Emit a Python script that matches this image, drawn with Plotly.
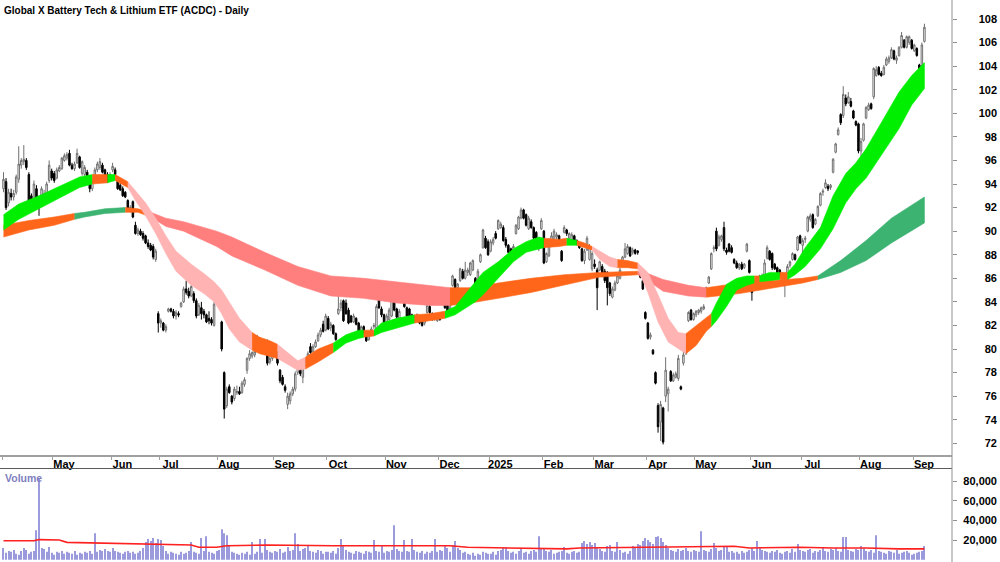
import plotly.graph_objects as go
import pandas as pd

# ---------------- data ----------------
holidays = ["2024-04-25", "2024-06-10", "2024-12-25", "2024-12-26", "2025-01-01",
            "2025-01-27", "2025-04-18", "2025-04-21", "2025-04-25", "2025-06-09"]
dates = [d for d in pd.bdate_range("2024-04-02", "2025-09-05")
         if d.strftime("%Y-%m-%d") not in holidays]

month_labels = ["", "May", "Jun", "Jul", "Aug", "Sep", "Oct", "Nov", "Dec",
                "2025", "Feb", "Mar", "Apr", "May", "Jun", "Jul", "Aug", "Sep"]

opens = [
    # Apr 2024
    93.6, 94.2, 92.4, 93.2, 92.9, 93.3, 94.4, 95.6, 95.9, 96.0, 94.8, 93.0, 92.5, 93.6, 92.9, 92.5, 93.0, 93.2, 94.3, 95.1,
    # May
    94.9, 94.5, 95.1, 95.3, 96.0, 96.2, 96.6, 95.6, 95.3, 95.8, 96.3, 94.9, 94.8, 95.0, 94.2, 93.6, 94.4, 95.2, 95.4, 95.6, 95.2, 94.8, 94.3,
    # Jun
    95.2, 95.2, 94.3, 93.9, 93.6, 93.3, 92.6, 91.9, 92.5, 90.5, 89.8, 90.0, 89.8, 89.6, 89.0, 88.8, 88.7, 87.6, 83.0,
    # Jul
    82.2, 82.2, 81.6, 83.2, 83.4, 83.2, 82.8, 83.0, 83.6, 84.0, 85.1, 84.9, 84.5, 84.7, 84.1, 82.9, 83.5, 83.2, 82.9, 82.6, 82.5, 82.0, 83.9,
    # Aug
    84.2, 82.3, 78.0, 75.2, 76.8, 76.0, 75.8, 76.3, 76.4, 76.3, 77.0, 78.2, 79.2, 79.4, 79.5, 80.5, 80.9, 80.5, 80.1, 80.6, 78.9, 79.2,
    # Sep
    80.2, 79.6, 78.2, 77.6, 76.8, 75.3, 75.6, 76.2, 76.6, 78.0, 78.6, 77.6, 78.7, 78.9, 80.2, 79.8, 80.2, 80.7, 81.2, 82.1, 81.6,
    # Oct
    82.6, 81.8, 82.0, 81.3, 83.0, 83.5, 84.1, 83.9, 83.3, 82.8, 82.3, 82.6, 82.2, 81.4, 81.9, 81.4, 80.8, 81.3, 81.9, 81.7, 84.7, 83.4, 82.9,
    # Nov
    82.3, 82.5, 82.8, 84.0, 83.4, 82.6, 84.1, 84.2, 83.5, 83.4, 82.9, 82.4, 82.7, 82.8, 82.4, 82.2, 83.1, 83.6, 83.0, 82.6, 82.4,
    # Dec
    82.9, 83.8, 84.8, 84.1, 83.4, 85.4, 85.9, 85.2, 85.8, 86.6, 86.0, 86.5, 86.3, 86.7, 86.0, 85.6, 87.4, 88.6, 89.4, 89.1,
    # Jan 2025
    88.3, 89.0, 89.8, 90.2, 90.3, 90.3, 89.3, 88.8, 88.5, 87.9, 89.8, 90.2, 91.1, 91.8, 91.4, 90.2, 90.8, 90.3, 89.9, 88.5, 90.2,
    # Feb
    90.0, 87.4, 87.9, 89.0, 89.1, 89.5, 89.6, 88.3, 89.9, 90.1, 89.4, 89.3, 89.6, 89.2, 89.0, 88.5, 87.5, 88.4, 87.6, 86.8,
    # Mar
    87.2, 86.7, 86.7, 87.0, 86.6, 86.5, 85.6, 84.4, 85.0, 85.6, 86.0, 87.4, 87.8, 88.1, 88.6, 88.2, 88.4, 88.3, 86.5, 85.8, 83.1,
    # Apr
    82.2, 81.0, 79.9, 78.0, 75.2, 73.8, 75.0, 76.0, 76.2, 78.1, 77.3, 77.6, 77.5, 76.8, 78.8, 79.6, 82.4, 83.3, 82.5,
    # May
    82.9, 83.1, 83.2, 83.4, 84.7, 85.6, 86.8, 88.5, 90.0, 88.8, 89.3, 90.3, 88.4, 88.9, 88.6, 87.6, 87.3, 86.9, 87.2, 86.9, 88.3, 87.5,
    # Jun
    86.1, 85.2, 85.5, 85.6, 85.8, 86.0, 87.7, 88.3, 88.1, 87.2, 86.9, 86.7, 85.9, 85.6, 85.7, 87.1, 87.6, 88.0, 88.4, 89.6,
    # Jul
    88.8, 89.3, 90.0, 91.0, 91.4, 90.6, 91.3, 92.2, 93.3, 93.7, 93.8, 93.7, 95.0, 96.7, 98.2, 99.9, 99.8, 101.3, 100.9, 101.0, 100.2, 99.3, 99.1,
    # Aug
    96.8, 97.7, 99.6, 100.3, 100.8, 101.4, 103.2, 103.9, 103.4, 103.3, 104.1, 104.4, 104.7, 105.3, 104.5, 104.9, 105.6, 106.2, 105.6, 106.0, 106.2,
    # Sep
    105.3, 105.5, 104.1, 104.0, 106.1,
]
highs = [
    95.0, 94.5, 93.6, 93.6, 93.5, 94.8, 97.2, 96.2, 97.3, 96.2, 95.0, 93.2, 94.3, 93.9, 93.0, 93.8, 93.5, 94.2, 96.0, 95.3,
    95.1, 95.4, 95.6, 96.3, 96.6, 96.7, 96.9, 95.8, 95.9, 97.0, 96.4, 96.0, 95.6, 95.2, 94.4, 94.4, 95.4, 95.9, 96.2, 95.8, 95.3, 95.0, 95.0,
    95.8, 95.4, 94.5, 94.1, 93.8, 93.4, 92.7, 92.2, 92.6, 90.8, 90.3, 90.2, 90.0, 89.7, 89.3, 89.0, 88.9, 88.5, 83.2,
    82.6, 82.3, 82.1, 83.5, 83.5, 83.4, 83.3, 83.2, 84.0, 85.3, 85.8, 85.2, 85.6, 84.9, 84.3, 83.9, 84.0, 83.4, 83.0, 83.2, 82.7, 84.0, 84.6,
    84.5, 82.4, 78.1, 76.8, 77.0, 76.1, 76.8, 76.9, 76.8, 77.3, 77.6, 79.3, 79.9, 79.8, 80.0, 81.2, 81.0, 80.7, 80.7, 80.8, 79.4, 80.3,
    80.4, 79.8, 78.3, 77.8, 77.0, 76.3, 76.4, 76.8, 78.1, 78.7, 78.8, 78.9, 79.2, 79.8, 80.5, 80.4, 80.8, 81.4, 81.8, 82.4, 83.0,
    82.8, 82.3, 82.1, 81.4, 84.6, 84.2, 84.2, 84.2, 83.5, 82.9, 83.0, 82.7, 82.3, 82.0, 82.0, 81.5, 81.4, 81.9, 82.2, 83.8, 84.9, 83.6, 83.0,
    83.0, 83.5, 85.4, 84.2, 83.5, 83.4, 85.0, 84.4, 83.6, 83.5, 83.0, 82.9, 83.0, 82.9, 82.5, 82.6, 83.9, 83.8, 83.1, 83.0, 82.8,
    83.0, 84.9, 84.9, 84.2, 84.2, 86.3, 86.0, 85.6, 86.9, 86.8, 87.4, 86.9, 87.4, 87.6, 86.1, 86.8, 88.1, 90.2, 89.6, 89.3,
    89.3, 89.5, 90.0, 91.0, 90.8, 90.5, 89.5, 88.9, 88.6, 88.9, 90.6, 91.3, 92.0, 91.9, 91.5, 91.3, 91.0, 90.4, 90.0, 89.5, 91.1,
    90.1, 88.2, 89.4, 89.9, 90.2, 89.9, 89.7, 88.4, 90.5, 90.2, 89.9, 89.9, 89.7, 89.3, 89.1, 88.6, 88.5, 89.6, 88.9, 88.3,
    87.6, 86.9, 87.5, 87.2, 86.8, 86.6, 85.7, 85.3, 85.8, 86.3, 86.9, 87.9, 89.0, 88.9, 88.7, 88.6, 88.5, 88.4, 86.6, 85.9, 83.2,
    82.3, 81.4, 80.0, 78.1, 75.4, 75.6, 75.1, 79.3, 76.8, 78.2, 78.0, 78.1, 79.5, 76.9, 79.9, 80.4, 83.2, 83.4, 83.1,
    83.3, 83.4, 83.6, 83.8, 85.3, 86.2, 88.2, 88.8, 90.3, 89.7, 89.7, 90.8, 88.6, 89.0, 88.8, 87.7, 87.5, 87.3, 87.4, 87.3, 89.0, 87.6,
    86.2, 85.9, 86.1, 86.3, 86.4, 87.6, 88.8, 88.4, 88.2, 87.3, 87.0, 86.8, 86.5, 86.2, 87.2, 87.5, 88.2, 88.1, 89.6, 89.7,
    89.4, 89.6, 91.3, 91.5, 91.5, 91.1, 92.2, 93.3, 93.6, 94.4, 94.0, 94.0, 96.2, 97.5, 98.8, 100.0, 102.3, 101.6, 101.8, 101.3, 100.3, 99.4, 99.2,
    97.9, 99.2, 100.6, 100.9, 100.9, 103.9, 104.0, 104.0, 103.6, 104.1, 104.8, 104.9, 105.6, 105.4, 104.9, 105.7, 106.9, 106.3, 106.6, 106.6, 106.3,
    105.9, 105.6, 104.2, 106.0, 107.6,
]
lows = [
    93.3, 91.8, 92.1, 92.6, 92.6, 93.1, 94.1, 95.3, 95.6, 95.2, 92.0, 91.9, 92.4, 92.3, 91.3, 92.4, 92.6, 93.1, 94.1, 94.3,
    94.1, 94.4, 95.0, 95.2, 95.9, 96.0, 95.5, 95.2, 95.1, 95.7, 95.3, 94.7, 94.6, 94.2, 93.3, 93.4, 94.2, 95.0, 95.2, 94.9, 94.4, 94.1, 94.2,
    95.0, 94.7, 93.5, 93.4, 92.9, 92.8, 91.8, 91.6, 91.1, 89.7, 89.6, 89.6, 89.2, 88.9, 88.5, 88.3, 87.6, 87.4, 81.4,
    81.8, 81.5, 81.4, 83.1, 83.1, 82.6, 82.5, 82.7, 83.5, 83.9, 84.6, 84.3, 84.4, 83.9, 82.6, 82.8, 82.5, 82.6, 82.2, 82.1, 82.0, 81.9, 83.8,
    83.7, 79.8, 74.1, 75.0, 76.2, 75.3, 75.6, 76.1, 76.1, 76.2, 76.8, 77.9, 79.0, 79.2, 79.3, 80.4, 80.3, 79.9, 80.0, 78.6, 78.7, 79.0,
    79.6, 78.6, 77.1, 76.9, 76.3, 74.9, 75.3, 76.0, 76.4, 77.8, 77.7, 77.1, 78.5, 78.7, 79.6, 79.7, 80.1, 80.6, 81.0, 81.4, 81.5,
    81.6, 81.5, 81.2, 80.7, 82.9, 83.2, 82.3, 82.9, 82.1, 82.2, 82.2, 82.0, 81.4, 81.3, 81.3, 80.6, 80.7, 81.1, 81.7, 81.6, 83.4, 82.7, 81.7,
    82.1, 82.4, 82.7, 83.2, 82.6, 82.4, 84.0, 83.5, 82.7, 82.5, 82.4, 82.2, 82.5, 82.1, 81.9, 82.0, 83.0, 83.0, 82.4, 82.4, 82.3,
    82.4, 83.7, 83.4, 83.1, 83.2, 85.3, 85.0, 85.0, 85.7, 85.9, 85.9, 86.2, 86.2, 86.6, 85.0, 85.5, 87.3, 88.5, 88.5, 87.9,
    88.2, 88.8, 89.3, 90.1, 90.2, 89.1, 88.6, 88.1, 87.7, 87.7, 89.7, 90.1, 91.0, 91.0, 90.4, 90.1, 90.2, 89.3, 89.2, 88.3, 90.1,
    87.2, 87.3, 87.8, 88.9, 89.0, 89.3, 89.0, 87.4, 89.8, 89.6, 89.2, 89.2, 89.0, 88.8, 88.5, 87.4, 87.2, 88.3, 87.5, 86.6,
    86.8, 83.3, 86.6, 86.1, 85.6, 83.7, 84.5, 84.3, 84.9, 85.5, 85.9, 87.3, 87.7, 88.0, 87.8, 88.0, 88.0, 88.0, 86.0, 85.0, 82.5,
    80.8, 80.8, 79.5, 77.0, 72.9, 72.2, 71.9, 75.5, 74.7, 77.2, 77.2, 77.5, 77.3, 76.5, 78.6, 79.5, 82.3, 82.4, 82.4,
    82.7, 82.9, 83.0, 83.3, 84.5, 85.5, 86.7, 88.2, 88.3, 88.7, 89.1, 88.3, 88.0, 88.2, 88.1, 87.2, 86.8, 86.7, 86.7, 86.8, 88.2, 86.4,
    84.1, 85.1, 85.4, 85.5, 85.7, 85.9, 87.6, 87.5, 86.7, 86.7, 86.4, 86.1, 85.8, 84.4, 85.6, 86.9, 87.5, 87.5, 88.3, 88.9,
    87.9, 89.0, 89.9, 90.8, 90.2, 90.5, 91.2, 92.1, 93.0, 93.6, 93.4, 93.5, 94.9, 96.6, 98.1, 99.0, 99.6, 100.6, 100.8, 100.5, 99.5, 98.9, 96.6,
    95.4, 97.6, 99.5, 100.2, 100.3, 101.2, 103.1, 103.2, 103.1, 103.2, 104.0, 104.2, 104.6, 104.5, 104.2, 104.8, 105.5, 105.5, 105.5, 105.8, 105.4,
    105.2, 104.8, 103.3, 103.9, 106.0,
]
closes = [
    94.4, 92.0, 93.3, 92.9, 93.2, 94.6, 95.7, 96.0, 96.1, 95.4, 92.2, 92.3, 94.0, 92.5, 92.4, 93.6, 93.2, 94.0, 95.6, 94.5,
    94.3, 95.2, 95.4, 96.2, 96.4, 96.5, 95.6, 95.3, 95.7, 96.6, 95.4, 95.9, 95.4, 94.4, 93.6, 94.2, 95.2, 95.7, 95.9, 95.0, 94.6, 94.3, 94.8,
    95.5, 94.8, 93.6, 93.5, 93.0, 92.9, 91.9, 92.0, 91.2, 89.8, 90.1, 89.7, 89.4, 89.0, 88.7, 88.4, 87.8, 88.3, 82.2,
    82.4, 81.6, 81.9, 83.4, 83.2, 82.8, 83.1, 82.9, 83.9, 85.1, 84.8, 84.5, 85.3, 84.1, 82.8, 83.7, 83.0, 82.9, 82.3, 82.4, 82.2, 83.8, 84.4,
    84.0, 80.0, 74.9, 76.6, 76.3, 75.5, 76.6, 76.4, 76.2, 77.1, 77.4, 79.2, 79.6, 79.7, 79.8, 81.0, 80.5, 80.1, 80.6, 78.8, 79.2, 80.1,
    79.8, 78.8, 77.3, 77.0, 76.5, 76.0, 76.2, 76.6, 77.9, 78.5, 77.9, 78.7, 79.0, 79.6, 79.7, 80.2, 80.6, 81.2, 81.6, 81.5, 82.8,
    81.7, 82.1, 81.3, 80.8, 83.4, 83.9, 82.4, 83.0, 82.2, 82.3, 82.8, 82.1, 81.5, 81.9, 81.4, 80.7, 81.2, 81.7, 82.0, 83.6, 83.5, 82.9, 81.8,
    82.8, 83.3, 84.3, 83.3, 82.7, 83.2, 84.6, 83.6, 82.8, 82.6, 82.5, 82.8, 82.6, 82.2, 82.0, 82.5, 83.7, 83.1, 82.5, 82.8, 82.7,
    82.5, 84.8, 83.5, 83.2, 84.0, 86.2, 85.1, 85.5, 86.8, 86.0, 86.7, 86.7, 87.3, 87.5, 85.1, 86.6, 88.0, 90.1, 88.6, 88.0,
    89.1, 89.3, 89.4, 90.9, 90.6, 89.2, 88.8, 88.2, 87.8, 88.7, 90.5, 91.2, 91.8, 91.1, 90.5, 91.1, 90.3, 89.4, 89.3, 89.4, 90.9,
    87.3, 88.1, 89.3, 89.6, 90.0, 89.7, 89.1, 87.5, 90.3, 89.8, 89.8, 89.7, 89.2, 88.9, 88.6, 87.5, 88.3, 89.4, 88.7, 88.1,
    87.0, 85.2, 87.4, 86.2, 85.8, 85.2, 84.7, 85.1, 85.6, 86.2, 86.7, 87.8, 88.5, 88.7, 87.9, 88.4, 88.1, 88.2, 86.1, 85.1, 82.6,
    80.9, 81.2, 79.6, 77.1, 73.4, 75.3, 72.1, 78.2, 76.6, 77.3, 77.8, 77.9, 79.2, 76.6, 79.5, 80.3, 83.1, 82.5, 83.0,
    83.2, 83.3, 83.5, 83.6, 85.2, 86.1, 88.1, 88.6, 88.5, 89.5, 89.6, 88.5, 88.2, 88.3, 88.2, 87.3, 86.9, 87.2, 86.8, 87.2, 88.9, 86.5,
    84.8, 85.8, 86.0, 86.2, 86.2, 87.3, 88.6, 87.6, 86.9, 86.8, 86.5, 86.2, 86.4, 86.0, 87.0, 87.4, 88.1, 87.6, 89.5, 89.0,
    89.2, 89.4, 91.2, 91.3, 90.3, 91.0, 92.1, 93.2, 93.4, 94.1, 93.6, 93.9, 96.1, 97.4, 98.6, 99.2, 101.6, 100.8, 101.4, 100.6, 99.6, 99.0, 96.8,
    97.6, 99.1, 100.5, 100.7, 100.4, 103.8, 103.7, 103.3, 103.2, 103.9, 104.6, 104.7, 105.4, 104.6, 104.7, 105.6, 106.6, 105.6, 106.5, 106.5, 105.5,
    105.8, 104.9, 103.4, 105.8, 107.3,
]
volume_k = [
    12, 7, 9, 8, 10, 6, 5, 9, 12, 10, 6, 8, 9, 30, 83, 12, 11, 8, 13, 7,
    5, 8, 7, 9, 6, 8, 7, 6, 9, 5, 7, 6, 8, 7, 9, 6, 27, 8, 10, 9, 11, 9, 8,
    12, 9, 8, 7, 6, 8, 9, 7, 8, 6, 7, 9, 12, 18, 21, 19, 22, 17, 21,
    20, 14, 9, 6, 8, 7, 6, 5, 8, 6, 7, 9, 18, 8, 7, 6, 22, 9, 24, 8, 7, 6, 9,
    10, 31, 27, 25, 14, 8, 7, 6, 5, 7, 6, 8, 5, 18, 6, 8, 21, 7, 21, 10, 8, 7,
    9, 8, 11, 7, 8, 13, 9, 10, 27, 16, 9, 11, 12, 14, 9, 8, 7, 10, 9, 6, 8,
    8, 7, 9, 6, 12, 21, 15, 10, 8, 7, 6, 9, 8, 7, 6, 9, 8, 7, 20, 9, 8, 14, 7,
    9, 8, 10, 35, 11, 9, 8, 20, 9, 8, 21, 10, 8, 7, 9, 6, 8, 7, 9, 21, 8,
    10, 9, 14, 12, 8, 15, 19, 12, 10, 7, 8, 6, 5, 7, 4, 6, 5, 8, 7, 6,
    6, 8, 5, 9, 10, 12, 13, 9, 7, 8, 6, 9, 12, 7, 8, 6, 9, 10, 8, 24, 11,
    12, 9, 8, 10, 6, 7, 8, 9, 13, 7, 6, 8, 9, 7, 8, 17, 19, 16, 18, 15,
    17, 12, 11, 9, 8, 14, 15, 9, 8, 18, 10, 7, 8, 6, 9, 14, 12, 16, 15, 19, 22,
    20, 18, 16, 23, 24, 22, 18, 15, 12, 10, 9, 8, 11, 9, 10, 12, 9, 8, 10,
    9, 8, 29, 10, 9, 8, 11, 17, 12, 9, 10, 14, 13, 8, 9, 7, 8, 6, 9, 7, 8, 10,
    12, 9, 19, 13, 10, 9, 8, 7, 9, 8, 10, 7, 6, 8, 9, 7, 11, 8, 16, 10,
    9, 8, 10, 11, 7, 9, 8, 10, 12, 9, 8, 11, 10, 12, 9, 8, 23, 23, 10, 9, 8, 11, 10,
    14, 12, 9, 8, 10, 7, 25, 9, 8, 7, 6, 9, 8, 7, 10, 6, 7, 8, 9, 7, 5,
    6, 7, 8, 9, 14,
]
# volume moving average read at sample days (thousands)
vol_ma_day = [0, 12, 14, 22, 25, 38, 51, 64, 74, 77, 84, 88, 104, 130, 156, 176, 183, 196,
              222, 227, 259, 274, 288, 294, 314, 327, 340, 353, 363]
vol_ma_k = [19.3, 19.3, 20.5, 20.0, 17.7, 17.0, 16.0, 15.0, 15.0, 12.7, 12.7, 14.3, 15.0, 14.3,
            14.3, 14.3, 12.7, 12.0, 11.0, 12.0, 12.7, 12.7, 13.7, 12.0, 12.7, 12.0, 12.0, 11.0, 11.0]

# short-term ribbon (read at sample days): top, bottom, trend state
fast_day = [0, 6, 14, 22, 30, 35, 41, 44, 49, 52, 56, 60, 64, 68, 74, 79, 83, 86, 89, 93, 98, 101, 105,
            108, 112, 116, 119, 124, 130, 135, 140, 142, 146, 149, 155, 162, 168, 174, 178, 181, 183,
            186, 189, 195, 201, 206, 211, 213, 219, 222, 226, 229, 232, 235, 239, 242, 246, 250, 254,
            258, 262, 266, 269, 273, 277, 279, 281, 285, 289, 293, 296, 298, 302, 306, 309, 312, 316,
            322, 327, 332, 336, 340, 346, 353, 358, 363]
fast_top = [91.4, 92.3, 93.0, 93.8, 94.6, 94.8, 94.8, 94.8, 94.2, 93.4, 92.4, 91.1, 89.6, 88.3, 87.2,
            86.4, 85.7, 85.0, 84.0, 82.6, 81.4, 81.0, 80.7, 80.4, 79.7, 79.0, 79.3, 80.0, 80.5, 81.2,
            81.6, 81.6, 81.6, 82.2, 82.6, 82.9, 83.0, 83.2, 83.6, 84.4, 84.9, 85.7, 86.5, 87.4, 88.5,
            89.1, 89.5, 89.4, 89.3, 89.4, 89.2, 89.0, 88.7, 88.3, 87.8, 87.6, 87.5, 87.3, 86.5, 84.6,
            82.6, 81.4, 81.3, 82.0, 82.7, 83.0, 83.9, 85.5, 86.0, 86.2, 86.2, 86.2, 86.5, 86.5, 86.5,
            87.2, 88.6, 90.3, 93.0, 94.9, 95.8, 97.0, 99.2, 101.8, 103.2, 104.3]
fast_bot = [90.1, 91.0, 91.9, 92.8, 93.7, 94.0, 94.1, 94.3, 93.7, 92.6, 91.3, 89.8, 88.1, 86.6, 85.4,
            84.7, 84.0, 83.0, 81.7, 80.6, 79.9, 79.6, 79.4, 79.2, 78.7, 78.2, 78.3, 78.9, 79.7, 80.5,
            80.9, 81.0, 81.1, 81.4, 81.8, 82.2, 82.4, 82.6, 82.9, 83.3, 83.6, 84.0, 84.6, 86.0, 87.4,
            88.2, 88.5, 88.6, 88.7, 88.8, 88.8, 88.6, 88.4, 87.6, 87.0, 86.9, 86.9, 86.8, 84.8, 82.3,
            80.6, 80.0, 79.6, 80.3, 81.5, 81.9, 82.4, 83.6, 85.0, 85.4, 85.6, 85.7, 85.8, 85.9, 85.9,
            86.3, 87.0, 88.5, 90.2, 92.4, 93.6, 94.5, 96.4, 98.7, 100.7, 102.1]
fast_state = ["up", "up", "up", "up", "up", "mixed", "up", "mixed", "down", "down", "down", "down",
              "down", "down", "down", "down", "down", "down", "down", "down", "mixed", "mixed", "mixed",
              "down", "down", "down", "mixed", "mixed", "up", "up", "up", "mixed", "up", "up", "up",
              "mixed", "mixed", "up", "up", "up", "up", "up", "up", "up", "up", "up", "up", "mixed",
              "mixed", "up", "mixed", "mixed", "down", "down", "down", "mixed", "mixed", "down", "down",
              "down", "down", "down", "mixed", "mixed", "mixed", "up", "up", "up", "up", "up", "mixed",
              "up", "up", "mixed", "up", "up", "up", "up", "up", "up", "up", "up", "up", "up", "up", "up"]

# long-term ribbon
slow_day = [0, 10, 20, 28, 32, 40, 48, 53, 58, 64, 71, 84, 90, 103, 116, 129, 142, 155, 168, 176, 184,
            195, 208, 221, 235, 250, 254, 260, 270, 277, 290, 302, 315, 321, 330, 340, 350, 363]
slow_top = [90.5, 90.9, 91.2, 91.5, 91.6, 91.9, 92.0, 91.9, 91.6, 91.1, 90.8, 90.0, 89.5, 88.2, 87.0,
            86.2, 86.0, 85.7, 85.4, 85.2, 85.2, 85.6, 86.0, 86.3, 86.5, 86.6, 86.4, 85.9, 85.4, 85.2,
            85.6, 85.8, 86.0, 86.2, 87.5, 89.2, 91.1, 92.9]
slow_bot = [89.5, 90.1, 90.5, 91.0, 91.2, 91.5, 91.6, 91.6, 91.2, 90.4, 90.0, 88.7, 87.9, 86.7, 85.4,
            84.5, 84.3, 83.9, 83.7, 83.7, 83.9, 84.3, 84.8, 85.4, 86.1, 86.3, 85.8, 84.9, 84.5, 84.4,
            84.7, 85.1, 85.6, 85.9, 86.5, 87.5, 89.0, 90.7]
slow_state = ["mixed", "mixed", "mixed", "up", "up", "up", "mixed", "mixed", "down", "down", "down",
              "down", "down", "down", "down", "down", "down", "down", "down", "mixed", "mixed", "mixed",
              "mixed", "mixed", "mixed", "down", "down", "down", "down", "mixed", "mixed", "mixed",
              "mixed", "up", "up", "up", "up", "up"]

price_ticks = list(range(72, 109, 2))
vol_ticks = [20, 40, 60, 80]
vol_tick_text = ["20,000", "40,000", "60,000", "80,000"]

# ---------------- styles ----------------
FAST_COL = {"up": "#00EE00", "mixed": "#FF6619", "down": "#FFB3B3"}
SLOW_COL = {"up": "#3CB371", "mixed": "#FF6619", "down": "#FF7F7F"}
FONT = "Liberation Sans, Arial, sans-serif"
AXW = 0.952            # right edge of plotting region (paper fraction)
PRICE_DOM = [0.1904, 1.0]
VOL_DOM = [0.0, 0.165]

N = min(len(dates), len(opens), len(highs), len(lows), len(closes), len(volume_k))
day = list(range(N))
month_pos = [i - 0.5 for i in range(N) if i == 0 or dates[i].month != dates[i - 1].month]


def ribbon(xs, tops, bots, states, colors):
    out = []
    start = 0
    for k in range(1, len(xs)):
        if k == len(xs) - 1 or states[k] != states[start]:
            seg = list(range(start, k + 1))
            x = [xs[j] for j in seg] + [xs[j] for j in reversed(seg)]
            y = [tops[j] for j in seg] + [bots[j] for j in reversed(seg)]
            c = colors[states[start]]
            out.append(go.Scatter(x=x, y=y, mode="lines", fill="toself", fillcolor=c,
                                  line=dict(width=0.6, color=c), hoverinfo="skip",
                                  xaxis="x", yaxis="y", showlegend=False))
            start = k
    return out


fig = go.Figure()
for t in ribbon(slow_day, slow_top, slow_bot, slow_state, SLOW_COL):
    fig.add_trace(t)
for t in ribbon(fast_day, fast_top, fast_bot, fast_state, FAST_COL):
    fig.add_trace(t)

fig.add_trace(go.Candlestick(
    x=day, open=opens[:N], high=highs[:N], low=lows[:N], close=closes[:N],
    increasing=dict(line=dict(color="#707070", width=1), fillcolor="#FFFFFF"),
    decreasing=dict(line=dict(color="#000000", width=1), fillcolor="#000000"),
    whiskerwidth=0, xaxis="x", yaxis="y", showlegend=False, hoverinfo="skip"))

fig.add_trace(go.Bar(x=day, y=volume_k[:N], width=0.4, marker=dict(color="#9A9ADC", line=dict(width=0)),
                     xaxis="x2", yaxis="y2", showlegend=False, hoverinfo="skip"))
fig.add_trace(go.Scatter(x=vol_ma_day, y=vol_ma_k, mode="lines", line=dict(color="#FF2020", width=1.6),
                         xaxis="x2", yaxis="y2", showlegend=False, hoverinfo="skip"))
# label-only overlay axes need a (blank) trace
fig.add_trace(go.Scatter(x=[None], y=[None], xaxis="x", yaxis="y3", showlegend=False, hoverinfo="skip"))
fig.add_trace(go.Scatter(x=[None], y=[None], xaxis="x2", yaxis="y4", showlegend=False, hoverinfo="skip"))

xr = [-1.38, 373.87]
tickfont = dict(family=FONT, size=11, color="#000000", weight="bold")

fig.update_layout(
    width=1000, height=562,
    margin=dict(l=0, r=0, t=0, b=0),
    paper_bgcolor="white", plot_bgcolor="white",
    showlegend=False, boxgap=0.15, hovermode=False,
    xaxis=dict(domain=[0, AXW], range=xr, anchor="y", rangeslider=dict(visible=False),
               showgrid=False, zeroline=False, showline=True, linecolor="#A0A0A0", linewidth=2,
               tickmode="array", tickvals=month_pos, ticktext=month_labels[:len(month_pos)],
               ticks="outside", ticklen=3, tickcolor="#A0A0A0", tickfont=tickfont,
               ticklabelshift=11, ticklabelstandoff=-5, fixedrange=True),
    xaxis2=dict(domain=[0, AXW], range=xr, anchor="y2", matches="x", side="top",
                showgrid=False, zeroline=False, showline=True, linecolor="#5A5A5A", linewidth=1,
                showticklabels=False, ticks="", fixedrange=True),
    yaxis=dict(domain=PRICE_DOM, range=[71.007, 109.612], anchor="x", side="right",
               tickmode="array", tickvals=price_ticks, ticks="outside", ticklen=4, tickcolor="#909090",
               showticklabels=False, showgrid=False, zeroline=False, showline=False, fixedrange=True),
    yaxis2=dict(domain=VOL_DOM, range=[-2.3, 92], anchor="x2", side="right",
                tickmode="array", tickvals=vol_ticks, ticks="outside", ticklen=4, tickcolor="#909090",
                showticklabels=False, showgrid=False, zeroline=False, showline=False, fixedrange=True),
    yaxis3=dict(overlaying="y", anchor="free", position=1.0, side="right", range=[71.007, 109.612],
                tickmode="array", tickvals=price_ticks, ticktext=[str(v) for v in price_ticks],
                ticklabelposition="inside", ticks="", showgrid=False, zeroline=False, showline=False,
                tickfont=tickfont, automargin=False, fixedrange=True),
    yaxis4=dict(overlaying="y2", anchor="free", position=1.0, side="right", range=[-2.3, 92],
                tickmode="array", tickvals=vol_ticks, ticktext=vol_tick_text,
                ticklabelposition="inside", ticks="", showgrid=False, zeroline=False, showline=False,
                tickfont=tickfont, automargin=False, fixedrange=True),
    shapes=[dict(type="line", xref="paper", yref="paper", x0=AXW, x1=AXW, y0=0, y1=1,
                 line=dict(color="#909090", width=1))],
    annotations=[
        dict(text="Global X Battery Tech & Lithium ETF (ACDC) - Daily", xref="paper", yref="paper",
             x=0.002, y=0.982, xanchor="left", yanchor="middle", showarrow=False,
             font=dict(family=FONT, size=10, color="#000000", weight="bold")),
        dict(text="Volume", xref="paper", yref="paper", x=0.003, y=0.1495, xanchor="left",
             yanchor="middle", showarrow=False,
             font=dict(family=FONT, size=10.5, color="#7F7FC0", weight="bold")),
    ],
)

fig.write_html("out.html", config={"displayModeBar": False})
